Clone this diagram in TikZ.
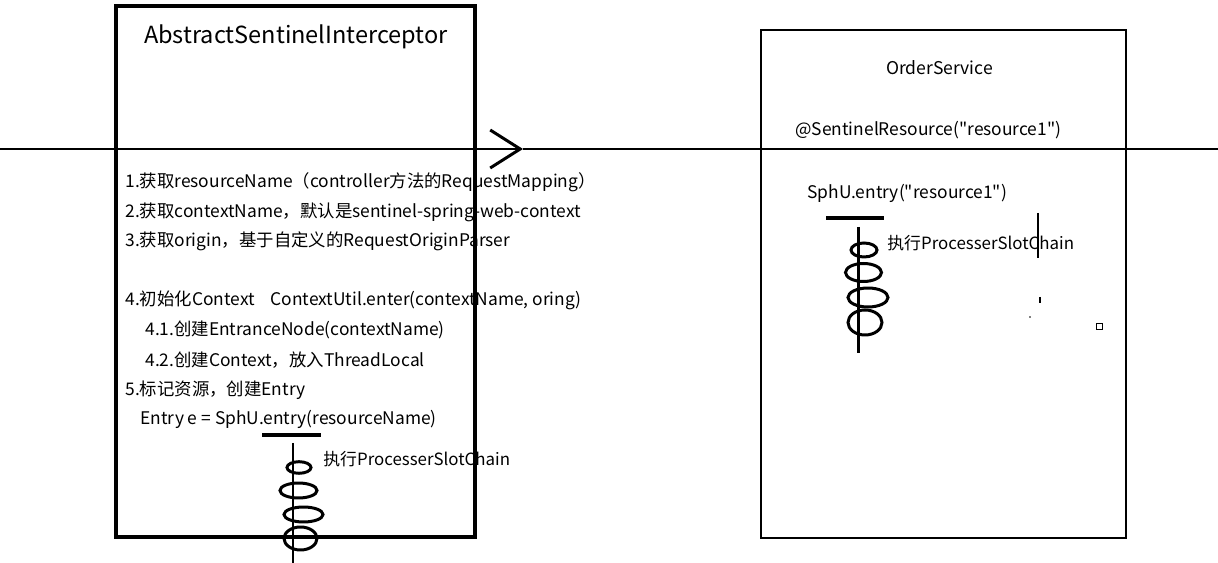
\documentclass[tikz,border=0pt]{standalone}
\usepackage{fontspec}
\newfontfamily\yahei{Noto Sans CJK SC}
\usetikzlibrary{arrows.meta}
\tikzset{
    txt/.style={anchor=west, inner sep=0pt, font=\yahei\fontsize{9.9}{12}\selectfont},
    coil/.style={line width=1.7pt},
    bar/.style={line width=2.3pt}
}

\begin{document}
\begin{tikzpicture}[x=0.02cm, y=-0.02cm]
    \useasboundingbox (0,0) rectangle (1218,563);
    % interceptor box
    \node[draw, line width=2.2pt, minimum width=7.18cm, minimum height=10.62cm] (interceptor) at (295.5,271.5) {};
    \node[font=\yahei\fontsize{13.4}{15}\selectfont] (title) at (296,37) {AbstractSentinelInterceptor};
    \node[txt] (s1) at (125,182) {1.获取resourceName（controller方法的RequestMapping）};
    \node[txt] (s2) at (125,212) {2.获取contextName，默认是sentinel-spring-web-context};
    \node[txt] (s3) at (125,241) {3.获取origin，基于自定义的RequestOriginParser};
    \node[txt] (s4) at (125,300) {4.初始化Context\hspace{9pt}ContextUtil.enter(contextName, oring)};
    \node[txt] (s41) at (145,330) {4.1.创建EntranceNode(contextName)};
    \node[txt] (s42) at (145,360) {4.2.创建Context，放入ThreadLocal};
    \node[txt] (s5) at (125,390) {5.标记资源，创建Entry};
    \node[txt] (entry) at (140,419) {Entry e = SphU.entry(resourceName)};

    % service box
    \node[draw, line width=1.1pt, minimum width=7.3cm, minimum height=10.16cm] (service) at (943.5,284) {};
    \node[font=\yahei\fontsize{10}{12}\selectfont] (name) at (939.5,68) {OrderService};
    \node[txt] (anno) at (795,130) {@SentinelResource("resource1")};
    \node[txt] (sph) at (807,193) {SphU.entry("resource1")};

    % request
    \coordinate (in) at (0,149);
    \coordinate (tip) at (523,149);
    \coordinate (out) at (1218,149);
    \draw[line width=1.7pt, -{Straight Barb[length=0.6cm, width=0.76cm]}] (in) -- (tip);
    \draw[line width=1.1pt] (tip) -- (out);

    % slot chain, left
    \draw[bar] (262,435) -- (321,435);
    \draw[coil] (293,443) -- (293,563);
    \foreach \cx/\cy/\rx/\ry in {299/467.5/12/5.8, 298.5/490.5/18.5/7.5, 303.5/514.5/19.5/7.5, 300.5/538.5/16.5/11.5}{
        \draw[coil] (\cx,\cy) ellipse [x radius=\rx, y radius=\ry];
    }
    \node[txt, font=\yahei\fontsize{9.6}{12}\selectfont] (chain1) at (323,459) {执行ProcesserSlotChain};

    % slot chain, right
    \draw[bar] (826,218) -- (884,218);
    \draw[coil] (858,227) -- (858,353);
    \foreach \cx/\cy/\rx/\ry in {864/250/13/7, 863.5/272.5/18/9, 868/297.5/20/9.5, 865/322.5/17/12.5}{
        \draw[coil] (\cx,\cy) ellipse [x radius=\rx, y radius=\ry];
    }
    \node[txt, font=\yahei\fontsize{9.6}{12}\selectfont] (chain2) at (887,243) {执行ProcesserSlotChain};
    \draw[line width=1.5pt] (1038,213) -- (1038,258);
    \draw[line width=0.6pt] (1040,297) -- (1040,303);
    \fill (1030,317) circle (0.8);
    \draw[line width=0.5pt] (1096,323) rectangle (1102,329);
\end{tikzpicture}
\end{document}
